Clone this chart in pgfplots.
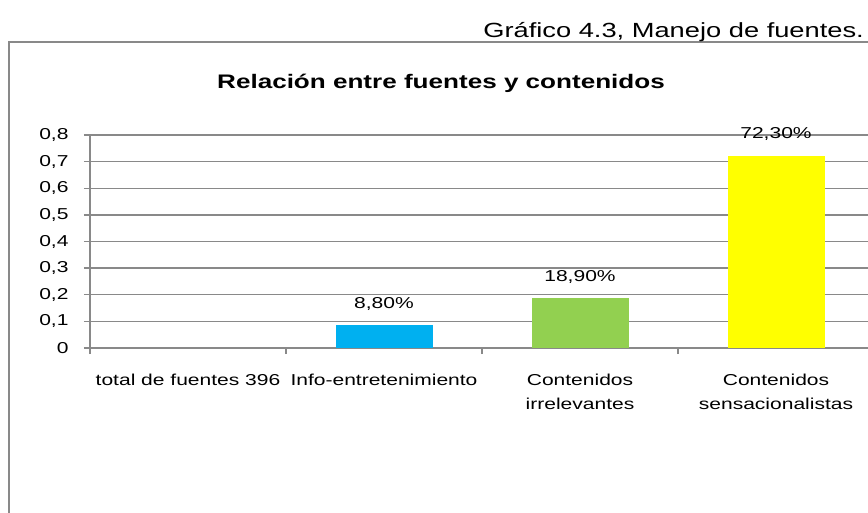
\documentclass[border=0pt]{standalone}
\usepackage{fontspec}
\setmainfont{Liberation Sans}[FakeStretch=1.33]
\usepackage{pgfplots}
\pgfplotsset{compat=1.18}
\definecolor{barblue}{HTML}{00B0F0}
\definecolor{bargreen}{HTML}{92D050}
\definecolor{baryellow}{HTML}{FFFF00}
\definecolor{gridgray}{HTML}{898989}
\begin{document}
\begin{tikzpicture}
\path[use as bounding box] (0pt,0pt) rectangle (868pt,512pt);
\clip (0pt,0pt) rectangle (868pt,512pt);
\draw[gridgray, line width=1.6pt] (9pt,-10pt) -- (9pt,470pt) -- (900pt,470pt);
\node[anchor=base east, inner sep=0pt, font=\fontsize{20.5}{24}\selectfont] at (864pt,474pt) {Gráfico 4.3, Manejo de fuentes.};
\node[anchor=base, inner sep=0pt, font=\fontsize{19.6}{23}\selectfont\bfseries] at (441pt,423pt) {Relación entre fuentes y contenidos};
\begin{axis}[
  at={(90pt,164pt)}, anchor=south west,
  scale only axis, width=784pt, height=213pt,
  xmin=-0.5, xmax=3.5, ymin=0, ymax=0.8,
  axis x line*=bottom, axis y line*=left,
  axis line style={gridgray, line width=1.3pt, -},
  ytick={0,0.1,0.2,0.3,0.4,0.5,0.6,0.7,0.8},
  ymajorgrids, grid style={gridgray, line width=1.3pt},
  tick style={gridgray, line width=1.3pt},
  tick align=outside, major tick length=6pt,
  /pgf/number format/assume math mode=true,
  yticklabel style={xshift=-12pt, /pgf/number format/.cd, fixed, use comma, precision=1},
  every tick label/.append style={font=\fontsize{15.8}{18}\selectfont},
  xtick={-0.5,0.5,1.5,2.5,3.5},
  xticklabels={,,,,},
  extra x ticks={0,1,2,3},
  extra x tick labels={total de fuentes 396, Info-entretenimiento, {Contenidos\\irrelevantes}, {Contenidos\\sensacionalistas}},
  extra x tick style={major tick length=0pt, grid=none, tick label style={align=center, yshift=-23pt, font=\fontsize{15.8}{23.5}\selectfont}},
  nodes near coords, point meta=explicit symbolic,
  every node near coord/.append style={font=\fontsize{15.8}{18}\selectfont, yshift=11pt},
]
\addplot[ybar, bar shift=0pt, bar width=97pt, fill=barblue, draw=none] coordinates {(1,0.088) [8,80\%]};
\addplot[ybar, bar shift=0pt, bar width=97pt, fill=bargreen, draw=none] coordinates {(2,0.189) [18,90\%]};
\addplot[ybar, bar shift=0pt, bar width=97pt, fill=baryellow, draw=none] coordinates {(3,0.723) [72,30\%]};
\end{axis}
\end{tikzpicture}
\end{document}
